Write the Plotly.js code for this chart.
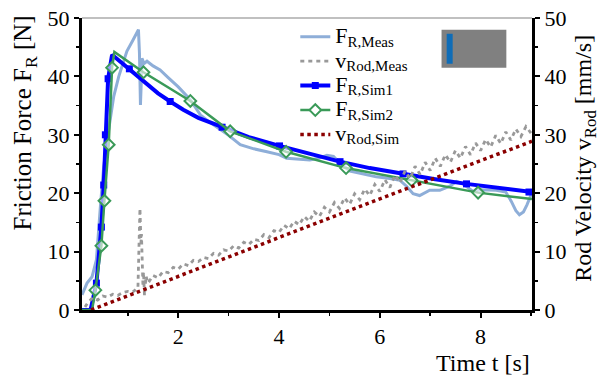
<!DOCTYPE html>
<html>
<head>
<meta charset="utf-8">
<script src="https://cdn.plot.ly/plotly-3.0.1.min.js"></script>
<style>html,body{margin:0;padding:0;background:#fff;}#chart{width:605px;height:376px;}</style>
</head>
<body>
<div id="chart"></div>
<script>
// ---- Data ----
// Measured friction force F_R,Meas [N]
var measT = [0.09,0.19,0.29,0.376,0.455,0.52,0.62,0.72,0.82,0.9,0.98,1.1,1.21,1.23,1.25,1.27,1.28,1.32,1.38,1.5,1.64,1.8,2.0,2.24,2.44,2.6,2.83,3.0,3.23,3.5,3.76,4.0,4.15,4.4,4.61,4.8,4.95,5.08,5.2,5.41,5.6,5.93,6.2,6.4,6.53,6.66,6.79,6.99,7.19,7.39,7.52,7.65,7.85,7.98,8.31,8.5,8.61,8.7,8.77,8.85,8.92,9.0];
var measF = [2.6,4.6,5.7,8.6,17.7,24.5,30.9,36.6,40.0,42.3,44.3,46.2,48.0,44.0,35.1,40.0,43.1,42.2,42.6,41.8,41.1,39.8,38.2,36.0,33.4,32.3,30.9,29.9,28.3,27.6,27.1,26.6,26.0,25.9,25.7,26.0,26.5,26.3,25.2,23.8,23.4,22.8,22.5,22.2,21.2,19.9,19.6,20.5,20.5,21.2,22.0,21.6,20.3,20.6,20.5,20.2,18.6,17.0,16.3,16.8,18.0,19.7];

// Measured rod velocity v_Rod,Meas [mm/s]
var vMeasT = [0.15,0.2,0.3,0.4,0.5,0.6,0.7,0.8,0.9,1.0,1.1,1.2,1.24,1.26,1.27,1.28,1.29,1.30,1.31,1.33,1.36,1.4,1.5,1.6,1.7,1.8,1.9,2.0,2.1,2.2,2.3,2.4,2.5,2.6,2.7,2.8,2.9,3.0,3.1,3.2,3.3,3.4,3.5,3.6,3.7,3.8,3.9,4.0,4.1,4.2,4.3,4.4,4.5,4.6,4.7,4.8,4.9,5.0,5.1,5.2,5.3,5.4,5.5,5.6,5.7,5.8,5.9,6.0,6.1,6.2,6.3,6.4,6.5,6.6,6.7,6.8,6.9,7.0,7.1,7.2,7.3,7.4,7.5,7.6,7.7,7.8,7.9,8.0,8.1,8.2,8.3,8.4,8.5,8.6,8.7,8.8,8.9,9.0];
var vMeasV = [0.5,1.2,2.1,1.7,2.4,2.2,2.7,2.5,3.0,3.2,3.1,3.8,17.4,11.5,13.0,7.5,9.5,4.0,6.5,2.5,5.8,4.6,5.9,5.5,6.6,6.4,7.3,7.0,7.9,7.6,8.5,8.3,9.0,8.8,9.7,9.4,10.3,10.1,11.0,10.6,11.6,11.2,12.1,11.9,12.9,12.4,13.6,13.3,14.5,13.9,15.2,14.6,16.0,15.2,16.8,16.0,17.6,16.8,18.4,17.4,19.2,18.1,19.9,18.9,20.7,19.6,21.5,20.3,22.3,21.0,23.1,21.8,23.8,22.5,24.6,23.2,25.3,23.9,26.0,24.6,26.6,25.3,27.3,26.0,28.0,26.6,28.6,27.3,29.2,27.9,29.9,28.5,30.5,29.1,31.0,29.7,31.4,30.3];

// Simulation 1 friction force F_R,Sim1 [N]
var sim1T = [0.09,0.26,0.376,0.475,0.521,0.554,0.608,0.687,0.8,0.9,1.03,1.2,1.4,1.6,1.84,2.1,2.4,2.87,3.4,4.01,4.6,5.21,5.8,6.46,7.1,7.72,8.3,9.02];
var sim1F = [0,0,4.6,14.2,21.4,30.0,39.6,43.7,42.9,42.2,41.3,40.0,38.5,37.1,35.7,34.3,32.9,31.3,29.6,28.1,26.7,25.4,24.3,23.3,22.4,21.6,20.9,20.2];
var sim1MarkT = [0.376,0.475,0.521,0.554,0.608,1.03,1.84,2.87,4.01,5.21,6.46,7.72,8.96];
var sim1MarkF = [4.6,14.2,21.4,30.0,39.6,41.3,35.7,31.3,28.1,25.4,23.3,21.6,20.2];

// Simulation 2 friction force F_R,Sim2 [N]
var sim2T = [0.09,0.29,0.356,0.475,0.535,0.62,0.687,0.733,1.31,2.24,3.03,4.14,5.33,6.63,7.95,9.02];
var sim2F = [0,0,3.4,11.0,18.7,28.3,41.5,44.2,40.7,35.8,30.6,27.1,24.3,22.2,20.1,19.0];
var sim2MarkT = [0.356,0.475,0.535,0.62,0.687,1.31,2.24,3.03,4.14,5.33,6.63,7.95];
var sim2MarkF = [3.4,11.0,18.7,28.3,41.5,40.7,35.8,30.6,27.1,24.3,22.2,20.1];

// Simulated rod velocity v_Rod,Sim [mm/s]
var vSimT = [0.27,3.95,5.41,9.02];
var vSimV = [0,12.3,17.1,28.9];

// Legend labels and axis texts
var names = {
  meas: 'F', measSub: 'R,Meas',
  vmeas: 'v', vmeasSub: 'Rod,Meas',
  sim1: 'F', sim1Sub: 'R,Sim1',
  sim2: 'F', sim2Sub: 'R,Sim2',
  vsim: 'v', vsimSub: 'Rod,Sim'
};
var xTickVals = [2,4,6,8];
var yTickVals = [0,10,20,30,40,50];
var xTitle = 'Time t [s]';
var yTitle = 'Friction Force F<sub>R</sub> [N]';
var y2Title = 'Rod Velocity v<sub>Rod</sub> [mm/s]';

// ---- Styling ----
var FONT = 'Liberation Serif';
var C_MEAS = '#8eaed8', C_VMEAS = '#999999', C_SIM1 = '#0000ff', C_SIM2 = '#3a9a58', C_VSIM = '#8b0000';
function lbl(main, sub) {
  return '<span style="font-size:22px">' + main + '</span><sub><span style="font-size:15px">' + sub + '</span></sub>';
}

var traces = [
  {x: measT, y: measF, type: 'scatter', mode: 'lines', name: lbl(names.meas, names.measSub),
   line: {color: C_MEAS, width: 3}, legendrank: 1},
  {x: vMeasT, y: vMeasV, yaxis: 'y2', type: 'scatter', mode: 'lines', name: lbl(names.vmeas, names.vmeasSub),
   line: {color: C_VMEAS, width: 2.8, dash: '4px,4px'}, legendrank: 2},
  {x: vSimT, y: vSimV, yaxis: 'y2', type: 'scatter', mode: 'lines', name: lbl(names.vsim, names.vsimSub),
   line: {color: C_VSIM, width: 3.5, dash: 'dot'}, legendrank: 5},
  // Sim1 line + markers
  {x: sim1T, y: sim1F, type: 'scatter', mode: 'lines', showlegend: false,
   line: {color: C_SIM1, width: 4}},
  {x: sim1MarkT, y: sim1MarkF, type: 'scatter', mode: 'markers', showlegend: false,
   marker: {color: C_SIM1, symbol: 'square', size: 7}},
  // Sim2 line + markers
  {x: sim2T, y: sim2F, type: 'scatter', mode: 'lines', showlegend: false,
   line: {color: C_SIM2, width: 2.5}},
  {x: sim2MarkT, y: sim2MarkF, type: 'scatter', mode: 'markers', showlegend: false,
   marker: {color: 'rgba(255,255,255,0.6)', symbol: 'diamond', size: 9, line: {color: C_SIM2, width: 2}}},
  // legend entries for simulated series
  {x: [null], y: [null], type: 'scatter', mode: 'lines+markers', name: lbl(names.sim1, names.sim1Sub),
   line: {color: C_SIM1, width: 4}, marker: {color: C_SIM1, symbol: 'square', size: 7}, legendrank: 3},
  {x: [null], y: [null], type: 'scatter', mode: 'lines+markers', name: lbl(names.sim2, names.sim2Sub),
   line: {color: C_SIM2, width: 2.5}, marker: {color: '#fff', symbol: 'diamond', size: 9, line: {color: C_SIM2, width: 2}}, legendrank: 4}
];

var tickFont = {family: FONT, size: 22, color: '#000'};
var xRange = [0.09, 9.02];
var yRange = [0, 50];
var baseX = {range: xRange, showgrid: false, zeroline: false, linecolor: '#000', linewidth: 3,
  tickmode: 'array', tickvals: xTickVals, tickcolor: '#000', tickwidth: 2, ticklen: 5};
var baseY = {range: yRange, showgrid: false, zeroline: false, linecolor: '#000', linewidth: 3,
  tickmode: 'array', tickvals: yTickVals, tickcolor: '#000', tickwidth: 2, ticklen: 5};

var layout = {
  width: 605, height: 376,
  margin: {l: 81.5, r: 72.5, t: 18.3, b: 66, pad: 0},
  paper_bgcolor: '#fff', plot_bgcolor: '#fff',
  font: {family: FONT, color: '#000'},
  showlegend: true,
  legend: {x: 0.474, y: 0.995, xanchor: 'left', yanchor: 'top', bgcolor: 'rgba(0,0,0,0)',
    font: {family: FONT, size: 16.5, color: '#000'}, tracegroupgap: 0},
  xaxis: Object.assign({}, baseX, {showline: true, ticks: 'outside', tickfont: tickFont,
    minor: {ticks: 'outside', dtick: 1, tick0: 0, ticklen: 3, tickwidth: 1.5, tickcolor: '#000'}}),
  xaxis2: Object.assign({}, baseX, {overlaying: 'x', anchor: 'y', side: 'bottom', showline: false,
    ticks: 'inside', showticklabels: false,
    minor: {ticks: 'inside', dtick: 1, tick0: 0, ticklen: 3, tickwidth: 1.5, tickcolor: '#000'}}),
  yaxis: Object.assign({}, baseY, {showline: true, ticks: 'outside', tickfont: tickFont,
    minor: {ticks: 'outside', dtick: 5, tick0: 0, ticklen: 3, tickwidth: 1.5, tickcolor: '#000'}}),
  yaxis2: Object.assign({}, baseY, {overlaying: 'y', side: 'right', anchor: 'x', showline: true,
    ticks: 'outside', tickfont: tickFont,
    minor: {ticks: 'outside', dtick: 5, tick0: 0, ticklen: 3, tickwidth: 1.5, tickcolor: '#000'}}),
  yaxis3: Object.assign({}, baseY, {overlaying: 'y', side: 'left', anchor: 'x', showline: false,
    ticks: 'inside', showticklabels: false,
    minor: {ticks: 'inside', dtick: 5, tick0: 0, ticklen: 3, tickwidth: 1.5, tickcolor: '#000'}}),
  yaxis4: Object.assign({}, baseY, {overlaying: 'y', side: 'right', anchor: 'x', showline: false,
    ticks: 'inside', showticklabels: false,
    minor: {ticks: 'inside', dtick: 5, tick0: 0, ticklen: 3, tickwidth: 1.5, tickcolor: '#000'}}),
  shapes: [
    {type: 'line', xref: 'paper', yref: 'paper', x0: 0, x1: 1, y0: 1, y1: 1, line: {color: '#c0c0c0', width: 2}},
    {type: 'rect', xref: 'paper', yref: 'paper', x0: 0.799, x1: 0.943, y0: 0.83, y1: 0.96, fillcolor: '#808080', line: {width: 0}},
    {type: 'rect', xref: 'paper', yref: 'paper', x0: 0.8104, x1: 0.8237, y0: 0.8433, y1: 0.946, fillcolor: '#0f6db8', line: {width: 0}}
  ],
  annotations: [
    {text: yTitle, xref: 'paper', yref: 'paper', x: -0.128, y: 0.64, textangle: -90, showarrow: false,
     xanchor: 'center', yanchor: 'middle', font: {family: FONT, size: 25, color: '#000'}},
    {text: y2Title, xref: 'paper', yref: 'paper', x: 1.119, y: 0.52, textangle: -90, showarrow: false,
     xanchor: 'center', yanchor: 'middle', font: {family: FONT, size: 24, color: '#000'}},
    {text: xTitle, xref: 'paper', yref: 'paper', x: 1.0, y: -0.182, showarrow: false,
     xanchor: 'right', yanchor: 'middle', font: {family: FONT, size: 24, color: '#000'}}
  ]
};

Plotly.newPlot('chart', traces, layout, {displayModeBar: false, staticPlot: true});
</script>
</body>
</html>
